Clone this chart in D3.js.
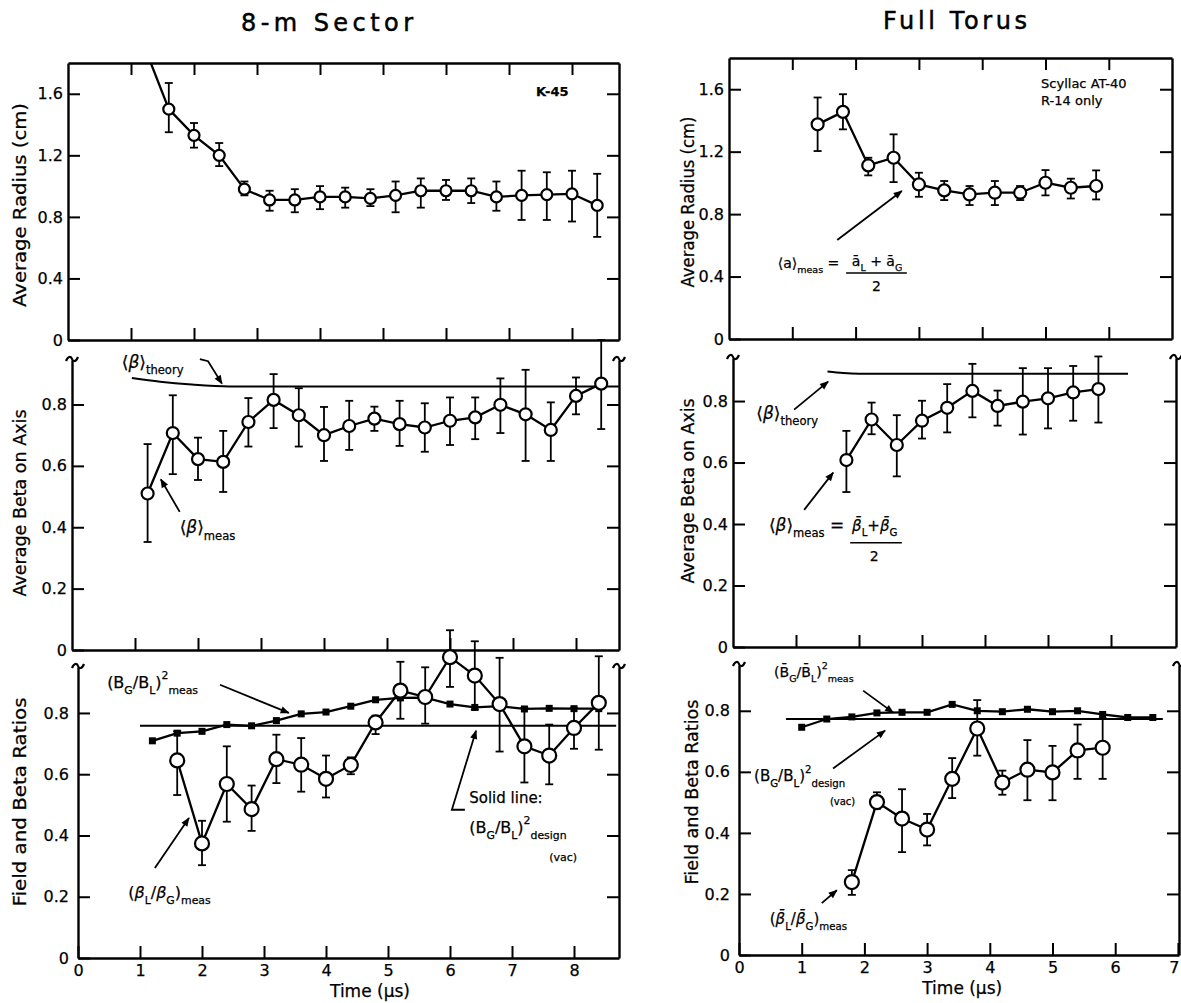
<!DOCTYPE html>
<html>
<head>
<meta charset="utf-8">
<script src="https://cdn.jsdelivr.net/npm/d3@7"></script>
<style>
body { margin: 0; background: #fff; }
text { font-family: "DejaVu Sans", sans-serif; fill: #000; stroke: #000; stroke-width: 0.25px; }
</style>
</head>
<body>
<div id="chart"></div>
<script>
// ---- data ----
// 8-m sector, time points (us)
var timeL  = [1.2, 1.6, 2.0, 2.4, 2.8, 3.2, 3.6, 4.0, 4.4, 4.8, 5.2, 5.6, 6.0, 6.4, 6.8, 7.2, 7.6, 8.0, 8.4];
var timeL2 = [1.6, 2.0, 2.4, 2.8, 3.2, 3.6, 4.0, 4.4, 4.8, 5.2, 5.6, 6.0, 6.4, 6.8, 7.2, 7.6, 8.0, 8.4];

// average radius (cm), first point is off the top of the frame
var radL   = [1.92, 1.50, 1.33, 1.20, 0.98, 0.91, 0.91, 0.93, 0.93, 0.92, 0.94, 0.97, 0.97, 0.97, 0.93, 0.94, 0.945, 0.95, 0.875];
var radLlo = [null, 1.35, 1.25, 1.13, 0.94, 0.84, 0.83, 0.85, 0.86, 0.87, 0.83, 0.86, 0.91, 0.89, 0.84, 0.78, 0.78, 0.77, 0.67];
var radLhi = [null, 1.67, 1.41, 1.28, 1.03, 0.97, 0.98, 1.00, 0.99, 0.98, 1.03, 1.05, 1.04, 1.05, 1.03, 1.10, 1.09, 1.10, 1.08];

// average beta on axis
var betaL   = [0.51, 0.707, 0.622, 0.613, 0.743, 0.815, 0.765, 0.70, 0.73, 0.754, 0.736, 0.725, 0.747, 0.758, 0.799, 0.768, 0.717, 0.828, 0.868];
var betaLlo = [0.352, 0.573, 0.554, 0.515, 0.663, 0.723, 0.663, 0.616, 0.652, 0.714, 0.665, 0.646, 0.668, 0.687, 0.707, 0.616, 0.616, 0.768, 0.72];
var betaLhi = [0.671, 0.83, 0.692, 0.714, 0.821, 0.899, 0.853, 0.792, 0.812, 0.793, 0.812, 0.804, 0.823, 0.823, 0.885, 0.913, 0.807, 0.888, 1.01];
var theoryLt = [0.95, 1.4, 1.9, 2.5, 8.68];
var theoryLv = [0.886, 0.874, 0.865, 0.859, 0.859];

// field ratio (squares) and beta ratio (circles)
var fieldL = [0.709, 0.734, 0.74, 0.762, 0.758, 0.775, 0.797, 0.803, 0.822, 0.843, 0.849, 0.85, 0.829, 0.818, 0.822, 0.813, 0.815, 0.814, 0.814];
var designL = 0.758;
var designLt = [1.0, 8.68];
var ratioL   = [0.645, 0.374, 0.568, 0.486, 0.649, 0.631, 0.585, 0.63, 0.769, 0.873, 0.852, 0.982, 0.922, 0.829, 0.691, 0.661, 0.751, 0.833];
var ratioLlo = [0.532, 0.303, 0.445, 0.415, 0.571, 0.543, 0.524, 0.60, 0.731, 0.781, 0.765, 0.885, 0.811, 0.674, 0.573, 0.567, 0.683, 0.68];
var ratioLhi = [0.74, 0.448, 0.691, 0.563, 0.729, 0.718, 0.661, 0.655, 0.791, 0.967, 0.949, 1.07, 1.034, 0.98, 0.816, 0.762, 0.816, 0.985];

// full torus
var timeR1 = [1.4, 1.8, 2.2, 2.6, 3.0, 3.4, 3.8, 4.2, 4.6, 5.0, 5.4, 5.8];
var timeR2 = [1.8, 2.2, 2.6, 3.0, 3.4, 3.8, 4.2, 4.6, 5.0, 5.4, 5.8];
var timeR3 = [1.0, 1.4, 1.8, 2.2, 2.6, 3.0, 3.4, 3.8, 4.2, 4.6, 5.0, 5.4, 5.8, 6.2, 6.6];

var radR   = [1.375, 1.455, 1.112, 1.161, 0.99, 0.952, 0.926, 0.937, 0.937, 1.001, 0.969, 0.98];
var radRlo = [1.204, 1.343, 1.048, 1.005, 0.911, 0.89, 0.858, 0.858, 0.89, 0.92, 0.90, 0.894];
var radRhi = [1.547, 1.568, 1.161, 1.311, 1.065, 1.012, 0.98, 1.012, 0.98, 1.082, 1.027, 1.08];

var betaR   = [0.608, 0.74, 0.657, 0.736, 0.778, 0.833, 0.784, 0.798, 0.809, 0.828, 0.839];
var betaRlo = [0.504, 0.692, 0.555, 0.678, 0.698, 0.747, 0.72, 0.691, 0.711, 0.736, 0.73];
var betaRhi = [0.703, 0.795, 0.754, 0.801, 0.855, 0.921, 0.834, 0.907, 0.907, 0.914, 0.945];
var theoryRt = [1.5, 1.75, 2.0, 6.27];
var theoryRv = [0.896, 0.891, 0.889, 0.889];

var fieldR = [0.746, 0.773, 0.78, 0.793, 0.795, 0.795, 0.821, 0.80, 0.797, 0.805, 0.797, 0.80, 0.788, 0.778, 0.778];
var designR = 0.773;
var designRt = [0.75, 6.76];
var ratioR   = [0.239, 0.501, 0.447, 0.411, 0.577, 0.742, 0.565, 0.607, 0.598, 0.67, 0.679];
var ratioRlo = [0.197, 0.479, 0.337, 0.359, 0.514, 0.653, 0.525, 0.507, 0.507, 0.577, 0.577];
var ratioRhi = [0.278, 0.533, 0.543, 0.462, 0.645, 0.835, 0.604, 0.704, 0.685, 0.755, 0.775];

// tick labels
var radTicks  = [0, 0.4, 0.8, 1.2, 1.6];
var betaTicks = [0, 0.2, 0.4, 0.6, 0.8];
var timeTicksL = [0, 1, 2, 3, 4, 5, 6, 7, 8];
var timeTicksR = [0, 1, 2, 3, 4, 5, 6, 7];

// ---- drawing ----
var W = 1181, H = 1003;
var svg = d3.select('#chart').append('svg')
  .attr('width', W).attr('height', H)
  .style('background', '#fff');

var defs = svg.append('defs');
defs.append('marker')
  .attr('id', 'arr')
  .attr('viewBox', '0 0 10 10')
  .attr('refX', 9).attr('refY', 5)
  .attr('markerUnits', 'userSpaceOnUse')
  .attr('markerWidth', 11).attr('markerHeight', 9)
  .attr('orient', 'auto')
  .append('path').attr('d', 'M0,1L10,5L0,9z').attr('fill', '#000');

var fmt = function(v) { return v === 0 ? '0' : d3.format('.1f')(v); };
var tilde = 'M-6,2 C-4,-3 -1,-3 0,0 S4,3 6,-2';
var clipN = 0;

// one framed panel; returns scales and a group
function panel(o) {
  var x = d3.scaleLinear().domain([0, (o.right - o.x0) / o.unit]).range([o.x0, o.right]);
  var y = d3.scaleLinear().domain([0, o.ymax]).range([o.y0, o.top]);
  var g = svg.append('g');

  var left = d3.axisLeft(y).tickValues(o.yticks).tickFormat(fmt)
    .tickSize(-12).tickSizeOuter(0).tickPadding(o.pad || 5);
  g.append('g').attr('transform', 'translate(' + o.x0 + ',0)').call(left);

  var right = d3.axisRight(y).tickValues(o.yticks.filter(function(v) { return v > 0; }))
    .tickFormat('').tickSize(-12).tickSizeOuter(0);
  g.append('g').attr('transform', 'translate(' + o.right + ',0)').call(right);

  var bottom = d3.axisBottom(x).tickValues(o.xticks).tickSize(-12).tickSizeOuter(0).tickPadding(7)
    .tickFormat(o.xlabels ? d3.format('d') : '');
  var bAx = g.append('g').attr('transform', 'translate(0,' + o.y0 + ')').call(bottom);
  if (o.lastShift) bAx.selectAll('.tick:last-of-type text').attr('dx', o.lastShift);

  if (o.frame) {
    var topAx = d3.axisTop(x).tickValues(o.xticks).tickFormat('').tickSize(-12).tickSizeOuter(0);
    g.append('g').attr('transform', 'translate(0,' + o.top + ')').call(topAx);
  } else {
    [o.x0, o.right].forEach(function(px) {
      g.append('path').attr('d', tilde)
        .attr('transform', 'translate(' + px + ',' + (o.top - 1) + ')')
        .attr('fill', 'none').attr('stroke', '#000').attr('stroke-width', 2.2);
    });
  }
  g.selectAll('.domain').attr('stroke-width', 2.4);
  g.selectAll('.tick line').attr('stroke-width', 2);
  g.selectAll('.tick text').attr('font-size', 16).attr('fill', '#000');

  var id = 'c' + (clipN++);
  defs.append('clipPath').attr('id', id).append('rect')
    .attr('x', o.x0).attr('y', o.top).attr('width', o.right - o.x0).attr('height', o.y0 - o.top);
  var plot = g.append('g');
  if (o.clip) plot.attr('clip-path', 'url(#' + id + ')');
  return { x: x, y: y, g: g, plot: plot };
}

function series(p, ts, vs, lo, hi, r, square) {
  var pts = ts.map(function(t, i) { return { t: t, v: vs[i], lo: lo ? lo[i] : null, hi: hi ? hi[i] : null }; });
  var line = d3.line().x(function(d) { return p.x(d.t); }).y(function(d) { return p.y(d.v); });
  p.plot.append('path').datum(pts).attr('d', line)
    .attr('fill', 'none').attr('stroke', '#000').attr('stroke-width', 2.3);
  var eb = pts.filter(function(d) { return d.lo != null; });
  var bars = p.plot.selectAll(null).data(eb).enter().append('g').attr('stroke', '#000').attr('stroke-width', 1.8);
  bars.append('line')
    .attr('x1', function(d) { return p.x(d.t); }).attr('x2', function(d) { return p.x(d.t); })
    .attr('y1', function(d) { return p.y(d.lo); }).attr('y2', function(d) { return p.y(d.hi); });
  ['lo', 'hi'].forEach(function(k) {
    bars.append('line')
      .attr('x1', function(d) { return p.x(d.t) - 4; }).attr('x2', function(d) { return p.x(d.t) + 4; })
      .attr('y1', function(d) { return p.y(d[k]); }).attr('y2', function(d) { return p.y(d[k]); });
  });
  if (square) {
    p.plot.selectAll(null).data(pts).enter().append('rect')
      .attr('x', function(d) { return p.x(d.t) - 3.5; }).attr('y', function(d) { return p.y(d.v) - 3.5; })
      .attr('width', 7).attr('height', 7).attr('fill', '#000');
  } else {
    p.plot.selectAll(null).data(pts).enter().append('circle')
      .attr('cx', function(d) { return p.x(d.t); }).attr('cy', function(d) { return p.y(d.v); })
      .attr('r', r).attr('fill', '#fff').attr('stroke', '#000').attr('stroke-width', 2.2);
  }
}

function plainLine(p, ts, vs, curve) {
  var pts = ts.map(function(t, i) { return [t, vs[i]]; });
  p.plot.append('path').datum(pts)
    .attr('d', d3.line().curve(curve || d3.curveLinear)
      .x(function(d) { return p.x(d[0]); }).y(function(d) { return p.y(d[1]); }))
    .attr('fill', 'none').attr('stroke', '#000').attr('stroke-width', 2);
}

// text with sub/superscripts
function rich(p, t, v, parts, size, anchor) {
  var el = p.g.append('text').attr('x', p.x(t)).attr('y', p.y(v))
    .attr('font-size', size).attr('text-anchor', anchor || 'start');
  var cur = 0;
  parts.forEach(function(q) {
    var shift = q.sub ? size * 0.38 : q.sup ? -size * 0.55 : 0;
    var ts = el.append('tspan').attr('dy', shift - cur)
      .attr('font-size', (q.sub || q.sup) ? size * 0.68 : size).text(q.t);
    if (q.it) ts.attr('font-style', 'italic');
    cur = shift;
  });
  return el;
}

function arrow(p, pts, head) {
  p.g.append('path')
    .attr('d', d3.line().x(function(d) { return p.x(d[0]); }).y(function(d) { return p.y(d[1]); })(pts))
    .attr('fill', 'none').attr('stroke', '#000').attr('stroke-width', 1.8)
    .attr('marker-end', head === false ? null : 'url(#arr)');
}

function fracBar(p, t1, t2, v) {
  p.g.append('line').attr('x1', p.x(t1)).attr('x2', p.x(t2)).attr('y1', p.y(v)).attr('y2', p.y(v))
    .attr('stroke', '#000').attr('stroke-width', 1.6);
}

var xt1 = [1, 2, 3, 4, 5, 6, 7, 8];
var xt2 = [1, 2, 3, 4, 5, 6];

// ---------- 8-m sector ----------
var LT = panel({ x0: 68, right: 619, unit: 63, y0: 340, top: 63, ymax: 1.8, yticks: radTicks, xticks: xt1, frame: true, clip: true });
series(LT, timeL, radL, radLlo, radLhi, 5.5);
LT.g.append('text').attr('x', LT.x(7.43)).attr('y', LT.y(1.585)).attr('font-size', 13).attr('font-weight', 'bold').text('K-45');

var LM = panel({ x0: 72, right: 619, unit: 63, y0: 650, top: 360, ymax: 0.945, yticks: betaTicks, xticks: xt1 });
plainLine(LM, theoryLt, theoryLv, d3.curveMonotoneX);
series(LM, timeL, betaL, betaLlo, betaLhi, 6);
rich(LM, 0.79, 0.919, [{ t: '⟨' }, { t: 'β', it: true }, { t: '⟩' }, { t: 'theory', sub: true }], 17);
arrow(LM, [[2.03, 0.948], [2.16, 0.941], [2.38, 0.868]]);
rich(LM, 1.71, 0.381, [{ t: '⟨' }, { t: 'β', it: true }, { t: '⟩' }, { t: 'meas', sub: true }], 17);
arrow(LM, [[1.71, 0.45], [1.41, 0.556]]);

var LB = panel({ x0: 78, right: 619, unit: 62, y0: 958, top: 667, ymax: 0.95, yticks: betaTicks, xticks: timeTicksL, xlabels: true, pad: 9 });
plainLine(LB, designLt, [designL, designL]);
series(LB, timeL, fieldL, null, null, 0, true);
series(LB, timeL2, ratioL, ratioLlo, ratioLhi, 7);
rich(LB, 0.47, 0.882, [{ t: '(B' }, { t: 'G', sub: true }, { t: '/B' }, { t: 'L', sub: true }, { t: ')' }, { t: '2', sup: true }, { t: 'meas', sub: true }], 16);
arrow(LB, [[2.29, 0.892], [3.4, 0.8]]);
rich(LB, 0.81, 0.196, [{ t: '(' }, { t: 'β', it: true }, { t: 'L', sub: true }, { t: '/' }, { t: 'β', it: true }, { t: 'G', sub: true }, { t: ')' }, { t: 'meas', sub: true }], 16);
arrow(LB, [[1.24, 0.294], [1.79, 0.457]]);
rich(LB, 6.31, 0.506, [{ t: 'Solid line:' }], 15);
rich(LB, 6.31, 0.408, [{ t: '(B' }, { t: 'G', sub: true }, { t: '/B' }, { t: 'L', sub: true }, { t: ')' }, { t: '2', sup: true }, { t: 'design', sub: true }], 16);
rich(LB, 7.6, 0.318, [{ t: '(vac)' }], 11);
arrow(LB, [[6.24, 0.484], [6.03, 0.484], [6.42, 0.742]]);
LB.g.append('text').attr('x', LB.x(4.71)).attr('y', 997).attr('text-anchor', 'middle')
  .attr('font-size', 17).text('Time (μs)');

// ---------- full torus ----------
var RT = panel({ x0: 729, right: 1172, unit: 63.3, y0: 339, top: 58, ymax: 1.8, yticks: radTicks, xticks: xt2, frame: true, clip: true });
series(RT, timeR1, radR, radRlo, radRhi, 6);
rich(RT, 4.93, 1.608, [{ t: 'Scyllac AT-40' }], 13);
rich(RT, 4.93, 1.499, [{ t: 'R-14 only' }], 13);
rich(RT, 0.77, 0.455, [{ t: '⟨a⟩' }, { t: 'meas', sub: true }, { t: ' = ' }], 14);
rich(RT, 1.94, 0.468, [{ t: 'ā' }, { t: 'L', sub: true }, { t: ' + ā' }, { t: 'G', sub: true }], 14);
fracBar(RT, 1.85, 2.81, 0.423);
rich(RT, 2.33, 0.307, [{ t: '2' }], 14, 'middle');
arrow(RT, [[1.71, 0.634], [2.73, 0.948]]);

var RM = panel({ x0: 733, right: 1176, unit: 63, y0: 647, top: 358, ymax: 0.94, yticks: betaTicks, xticks: xt2 });
plainLine(RM, theoryRt, theoryRv, d3.curveMonotoneX);
series(RM, timeR2, betaR, betaRlo, betaRhi, 6);
rich(RM, 0.37, 0.743, [{ t: '⟨' }, { t: 'β', it: true }, { t: '⟩' }, { t: 'theory', sub: true }], 17);
arrow(RM, [[0.97, 0.772], [1.51, 0.863]]);
rich(RM, 0.57, 0.378, [{ t: '⟨' }, { t: 'β', it: true }, { t: '⟩' }, { t: 'meas', sub: true }, { t: ' =' }], 17);
rich(RM, 1.89, 0.378, [{ t: 'β̄', it: true }, { t: 'L', sub: true }, { t: '+' }, { t: 'β̄', it: true }, { t: 'G', sub: true }], 15);
fracBar(RM, 1.86, 2.68, 0.339);
rich(RM, 2.24, 0.28, [{ t: '2' }], 14, 'middle');
arrow(RM, [[1.13, 0.446], [1.59, 0.567]]);

var RB = panel({ x0: 739, right: 1179, unit: 62.7, y0: 955, top: 665, ymax: 0.95, yticks: betaTicks, xticks: timeTicksR, xlabels: true, pad: 9, lastShift: -4 });
plainLine(RB, designRt, [designR, designR]);
series(RB, timeR3, fieldR, null, null, 0, true);
series(RB, timeR2, ratioR, ratioRlo, ratioRhi, 7);
rich(RB, 0.56, 0.912, [{ t: '(B̄' }, { t: 'G', sub: true }, { t: '/B̄' }, { t: 'L', sub: true }, { t: ')' }, { t: '2', sup: true }, { t: 'meas', sub: true }], 14);
arrow(RB, [[1.98, 0.866], [2.46, 0.794]]);
rich(RB, 0.24, 0.569, [{ t: '(B' }, { t: 'G', sub: true }, { t: '/B' }, { t: 'L', sub: true }, { t: ')' }, { t: '2', sup: true }, { t: 'design', sub: true }], 15);
rich(RB, 1.45, 0.49, [{ t: '(vac)' }], 10);
arrow(RB, [[1.5, 0.611], [2.33, 0.735]]);
rich(RB, 0.49, 0.101, [{ t: '(' }, { t: 'β̄', it: true }, { t: 'L', sub: true }, { t: '/' }, { t: 'β̄', it: true }, { t: 'G', sub: true }, { t: ')' }, { t: 'meas', sub: true }], 15);
arrow(RB, [[1.32, 0.17], [1.56, 0.212]]);
RB.g.append('text').attr('x', RB.x(3.56)).attr('y', 994).attr('text-anchor', 'middle')
  .attr('font-size', 17).text('Time (μs)');

// ---------- titles ----------
svg.append('text').attr('x', 327).attr('y', 31).attr('text-anchor', 'middle')
  .attr('font-size', 24).attr('textLength', 172).attr('lengthAdjust', 'spacing')
  .style('stroke-width', '0.5px').text('8-m  Sector');
svg.append('text').attr('x', 955).attr('y', 29).attr('text-anchor', 'middle')
  .attr('font-size', 24).attr('textLength', 144).attr('lengthAdjust', 'spacing')
  .style('stroke-width', '0.5px').text('Full  Torus');

var yTitles = [
  [20, 205, 'Average Radius (cm)', 204],
  [20, 503, 'Average Beta on Axis', 187],
  [20, 802, 'Field and Beta Ratios', 209],
  [688, 202, 'Average Radius (cm)', 171],
  [688, 491, 'Average Beta on Axis', 185],
  [692, 792, 'Field and Beta Ratios', 185]
];
yTitles.forEach(function(d) {
  svg.append('text')
    .attr('transform', 'translate(' + d[0] + ',' + d[1] + ') rotate(-90)')
    .attr('text-anchor', 'middle').attr('dy', '0.35em')
    .attr('font-size', 17).attr('textLength', d[3]).attr('lengthAdjust', 'spacingAndGlyphs')
    .text(d[2]);
});
</script>
</body>
</html>
